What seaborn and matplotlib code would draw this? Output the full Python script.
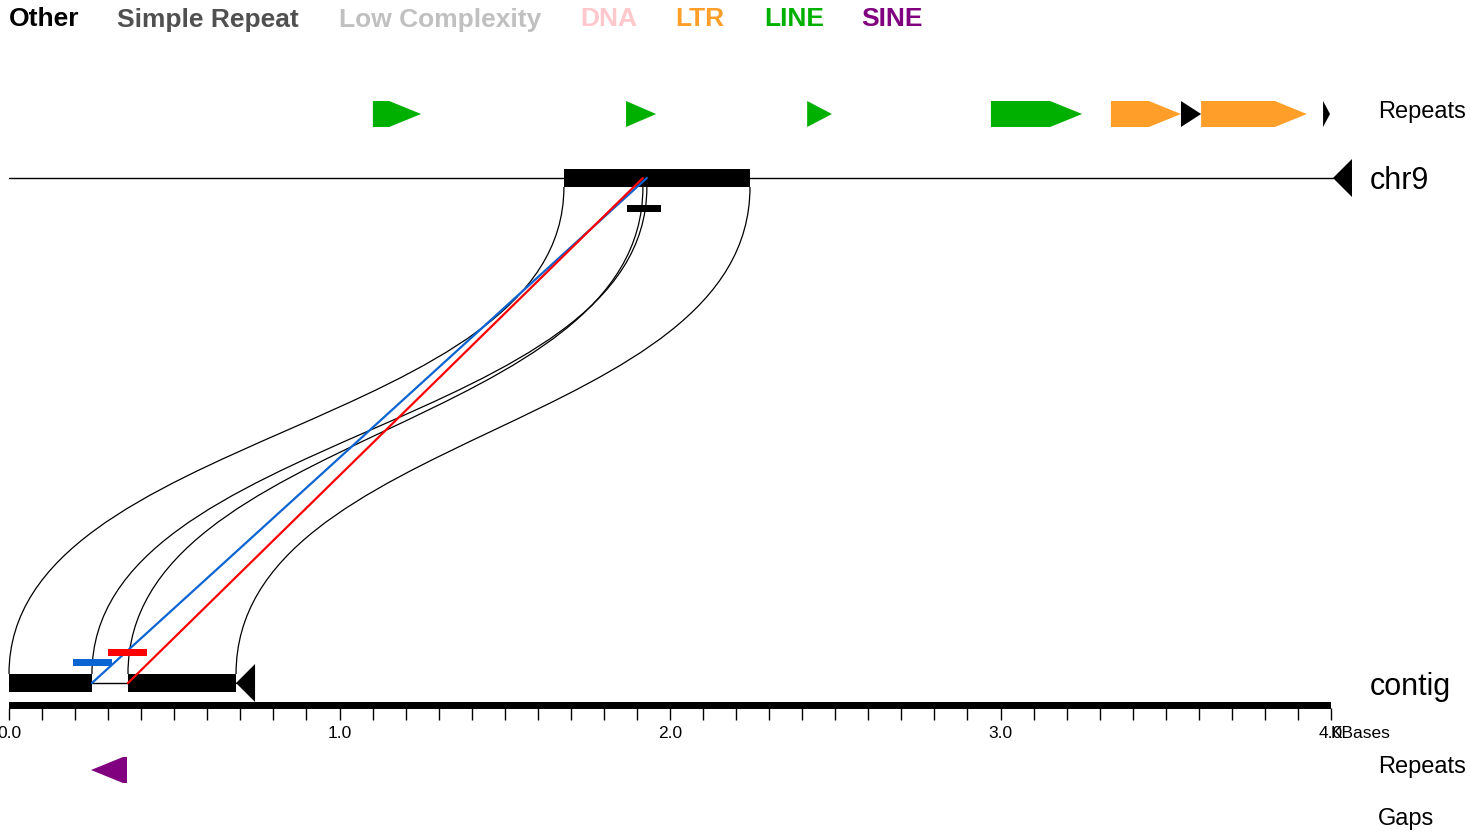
import matplotlib
matplotlib.use("Agg")
import matplotlib.pyplot as plt
import seaborn as sns
import pandas as pd
from matplotlib.patches import Polygon, Rectangle, PathPatch
from matplotlib.path import Path

# ---------------- data ----------------
legend_labels = ["Other", "Simple Repeat", "Low Complexity", "DNA", "LTR", "LINE", "SINE"]
legend_colors = ["#000000", "#505050", "#c0c0c0", "#ffc8cc", "#ff9f2a", "#00b000", "#800080"]

# repeats on chr9 (kb, display scale)
chr9_rep_start = [1.101, 1.867, 2.415, 2.971, 3.334, 3.546, 3.607, 3.976]
chr9_rep_end = [1.247, 1.958, 2.490, 3.247, 3.546, 3.607, 3.927, 3.997]
chr9_rep_class = ["LINE", "LINE", "LINE", "LINE", "LTR", "Other", "LTR", "Other"]
chr9_rep_strand = ["+", "+", "+", "+", "+", "+", "+", "+"]

# repeats on contig
contig_rep_start = [0.248]
contig_rep_end = [0.357]
contig_rep_class = ["SINE"]
contig_rep_strand = ["-"]

chr9_length = 4.006
contig_length = 0.687

# alignment blocks: contig interval -> chr9 interval
aln_contig_start = [0.000, 0.360]
aln_contig_end = [0.251, 0.687]
aln_chr9_start = [1.679, 1.918]
aln_chr9_end = [1.930, 2.242]

# breakpoint markers
bp_contig_blue = (0.194, 0.312)
bp_contig_red = (0.300, 0.418)
bp_chr9 = (1.870, 1.973)

axis_ticks = [round(i * 0.1, 1) for i in range(41)]
axis_major = [0.0, 1.0, 2.0, 3.0, 4.0]
axis_major_labels = ["0.0", "1.0", "2.0", "3.0", "4.0"]

# ---------------- style ----------------
sns.set_theme(style="white")
plt.rcParams['font.family'] = ['Liberation Sans', 'DejaVu Sans']
plt.rcParams['text.color'] = 'black'

W, H = 1470, 834
PX = 330.5  # pixels per kb
fig = plt.figure(figsize=(W / 100, H / 100), dpi=100)
ax = fig.add_axes([0, 0, 1, 1])
ax.set_xlim(-9 / PX, (W - 9) / PX)
ax.set_ylim(H, 0)
ax.axis("off")

cls_color = dict(zip(legend_labels, legend_colors))
HEAD = 32 / PX

# legend
leg_x = [9, 117, 339, 580, 675, 764, 861]
for lab, col, x in zip(legend_labels, legend_colors, leg_x):
    fig.text(x / W, 1 - 19.5 / H, lab, color=col, fontsize=19, fontweight="bold",
             ha="left", va="center")


def arrow(start, end, strand, yc, h, color):
    head = min(HEAD, end - start)
    top, bot = yc - h / 2, yc + h / 2
    if strand == "+":
        pts = [(start, top), (end - head, top), (end, yc), (end - head, bot), (start, bot)]
    else:
        pts = [(end, top), (start + head, top), (start, yc), (start + head, bot), (end, bot)]
    ax.add_patch(Polygon(pts, closed=True, facecolor=color, edgecolor="none"))


# top repeats track
for s, e, c, st in zip(chr9_rep_start, chr9_rep_end, chr9_rep_class, chr9_rep_strand):
    arrow(s, e, st, 114, 26, cls_color[c])
# bottom repeats track
for s, e, c, st in zip(contig_rep_start, contig_rep_end, contig_rep_class, contig_rep_strand):
    arrow(s, e, st, 770, 26, cls_color[c])

# backbones
CHR_Y, CON_Y = 178, 683
BH = 18
sns.lineplot(x=[0, chr9_length], y=[CHR_Y, CHR_Y], ax=ax, color="black", lw=1)
sns.lineplot(x=[0, contig_length], y=[CON_Y, CON_Y], ax=ax, color="black", lw=1)

# strand triangles at sequence ends
TRI = 19 / PX
for L, yc in [(chr9_length, CHR_Y), (contig_length, CON_Y)]:
    ax.add_patch(Polygon([(L, yc), (L + TRI, yc - 19), (L + TRI, yc + 19)],
                         closed=True, facecolor="black", edgecolor="none"))

# alignment blocks
for s, e in zip(aln_chr9_start, aln_chr9_end):
    ax.add_patch(Rectangle((s, CHR_Y - 9), e - s, BH, facecolor="black", edgecolor="none", zorder=3))
for s, e in zip(aln_contig_start, aln_contig_end):
    ax.add_patch(Rectangle((s, CON_Y - 9), e - s, BH, facecolor="black", edgecolor="none", zorder=3))

# connecting curves
Y0, Y1 = CHR_Y + 9, CON_Y - 9
YM = (Y0 + Y1) / 2
for cs, ce, gs, ge in zip(aln_contig_start, aln_contig_end, aln_chr9_start, aln_chr9_end):
    for gx, cx in [(gs, cs), (ge, ce)]:
        path = Path([(gx, Y0), (gx, YM), (cx, YM), (cx, Y1)],
                    [Path.MOVETO, Path.CURVE4, Path.CURVE4, Path.CURVE4])
        ax.add_patch(PathPatch(path, facecolor="none", edgecolor="black", lw=0.9, zorder=2))

# breakpoint diagonals
diag = pd.DataFrame({
    "x": [aln_contig_end[0], aln_chr9_end[0], aln_contig_start[1], aln_chr9_start[1]],
    "y": [CON_Y, CHR_Y, CON_Y, CHR_Y],
    "which": ["blue", "blue", "red", "red"],
})
sns.lineplot(data=diag, x="x", y="y", hue="which", palette={"blue": "#0a64d2", "red": "#ff0000"},
             ax=ax, lw=1.6, legend=False, sort=False, zorder=4)

# breakpoint bars
ax.add_patch(Rectangle((bp_contig_blue[0], 659), bp_contig_blue[1] - bp_contig_blue[0], 7,
                       facecolor="#0a64d2", edgecolor="none", zorder=5))
ax.add_patch(Rectangle((bp_contig_red[0], 649), bp_contig_red[1] - bp_contig_red[0], 7,
                       facecolor="#ff0000", edgecolor="none", zorder=5))
ax.add_patch(Rectangle((bp_chr9[0], 205), bp_chr9[1] - bp_chr9[0], 7,
                       facecolor="black", edgecolor="none", zorder=5))

# scale axis
ax.add_patch(Rectangle((0, 702), axis_major[-1], 7, facecolor="black", edgecolor="none"))
ax.vlines(axis_ticks, 708, 720, color="black", lw=1)
for t, lab in zip(axis_major, axis_major_labels):
    ax.text(t, 734, lab, fontsize=12.5, ha="center", va="center", color="black")
ax.text(axis_major[-1], 734, "KBases", fontsize=12.5, ha="left", va="center", color="black")

# track labels
ax.text(1370 / PX - 9 / PX, CHR_Y + 2.5, "chr9", fontsize=22, ha="left", va="center")
ax.text(1370 / PX - 9 / PX, CON_Y + 3.5, "contig", fontsize=22, ha="left", va="center")
for y, lab in [(111.5, "Repeats"), (767.5, "Repeats"), (818.5, "Gaps")]:
    ax.text(1378 / PX - 9 / PX, y, lab, fontsize=17, ha="left", va="center")

fig.savefig("out.png", dpi=100)
